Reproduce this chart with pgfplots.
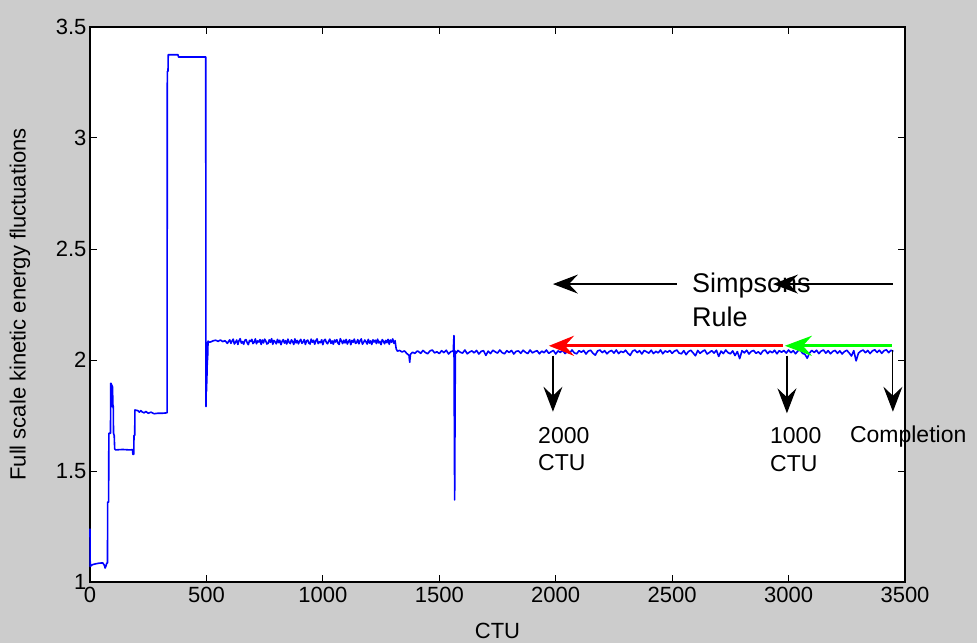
\documentclass[border=0pt]{standalone}
\usepackage{pgfplots}
\pgfplotsset{compat=1.18}
\usepackage{fontspec}
\setmainfont{Liberation Sans}
\usetikzlibrary{arrows.meta,backgrounds}
\definecolor{figgray}{RGB}{204,204,204}
\definecolor{mblue}{RGB}{0,0,255}
\definecolor{mred}{RGB}{255,0,0}
\definecolor{mgreen}{RGB}{0,255,0}
\begin{document}
\begin{tikzpicture}
\begin{axis}[
  scale only axis, width=815pt, height=555pt,
  xmin=0, xmax=3500, ymin=1, ymax=3.5,
  xtick={0,500,...,3500}, ytick={1,1.5,2,2.5,3,3.5},
  scaled ticks=false,
  /pgf/number format/1000 sep={},
  /pgf/number format/assume math mode=true,
  tick align=inside, major tick length=7pt,
  axis line style={black, line width=1.1pt},
  every tick/.style={black, line width=1pt},
  tick label style={font=\fontsize{22}{26}\selectfont},
  xticklabel style={yshift=-2pt},
  label style={font=\fontsize{22}{26}\selectfont},
  xlabel={CTU},
  ylabel={Full scale kinetic energy fluctuations},
  xlabel style={at={(axis description cs:0.5,-0.101)}, anchor=base},
  ylabel style={at={(axis description cs:-0.086,0.5)}, anchor=center},
  axis background/.style={fill=white},
  clip=false,
]
\addplot[mblue, line width=1.6pt, line join=round] coordinates {
(0,1.24)(1,1.07)(10,1.078)(25,1.082)(40,1.085)(55,1.086)(62,1.075)(65,1.063)(68,1.07)(72,1.085)(75,1.085)
(76,1.36)(80,1.36)(81,1.67)(88,1.67)(89,1.895)(90,1.80)(91,1.895)(92,1.79)(93,1.89)(94,1.80)(95,1.885)(96,1.79)
(97,1.88)(98,1.80)(100,1.79)(101,1.67)(104,1.66)(106,1.60)(110,1.595)(140,1.597)(170,1.595)(183,1.596)
(184,1.575)(188,1.575)(189,1.66)(192,1.66)(193,1.775)(205,1.772)(212,1.765)(218,1.772)(224,1.766)(232,1.762)
(240,1.768)(250,1.76)(262,1.765)(275,1.758)(290,1.76)(310,1.76)(331,1.762)
(332,3.30)(335,3.30)(336,3.375)(378,3.375)(380,3.365)(497,3.365)
(498,1.79)(500,2.0)(501,1.86)(502,2.06)(503,1.93)(504,2.08)(505,2.0)(507,2.085)(512,2.08)
(520,2.082)(530,2.087)(540,2.089)(550,2.084)(560,2.090)(570,2.083)(580,2.087)(590,2.075)(595,2.083)
(600,2.091)(605,2.075)(610,2.085)(615,2.094)(620,2.072)(625,2.080)(630,2.090)(635,2.070)(640,2.087)(645,2.096)
(650,2.076)(655,2.083)(660,2.071)(665,2.089)(670,2.092)(675,2.078)(680,2.069)(685,2.088)(690,2.084)(695,2.093)
(700,2.074)(705,2.079)(710,2.095)(715,2.073)(720,2.086)(725,2.081)(730,2.092)(735,2.070)(740,2.090)(745,2.077)
(750,2.094)(755,2.085)(760,2.072)(765,2.075)(770,2.091)(775,2.080)(780,2.096)(785,2.071)(790,2.088)(795,2.082)
(800,2.073)(805,2.093)(810,2.078)(815,2.089)(820,2.069)(825,2.084)(830,2.092)(835,2.076)(840,2.087)(845,2.072)
(850,2.094)(855,2.079)(860,2.074)(865,2.091)(870,2.083)(875,2.070)(880,2.095)(885,2.077)(890,2.088)(895,2.073)
(900,2.085)(905,2.093)(910,2.075)(915,2.081)(920,2.092)(925,2.070)(930,2.086)(935,2.090)(940,2.076)(945,2.072)
(950,2.094)(955,2.080)(960,2.089)(965,2.071)(970,2.087)(975,2.095)(980,2.074)(985,2.082)(990,2.078)(995,2.091)
(1000,2.069)(1005,2.088)(1010,2.093)(1015,2.079)(1020,2.073)(1025,2.084)(1030,2.094)(1035,2.075)(1040,2.086)(1045,2.071)
(1050,2.090)(1055,2.081)(1060,2.092)(1065,2.076)(1070,2.070)(1075,2.096)(1080,2.085)(1085,2.074)(1090,2.089)(1095,2.077)
(1100,2.093)(1105,2.072)(1110,2.083)(1115,2.091)(1120,2.069)(1125,2.088)(1130,2.080)(1135,2.094)(1140,2.075)(1145,2.078)
(1150,2.092)(1155,2.073)(1160,2.087)(1165,2.095)(1170,2.071)(1175,2.079)(1180,2.090)(1185,2.082)(1190,2.072)(1195,2.093)
(1200,2.076)(1205,2.086)(1210,2.070)(1215,2.091)(1220,2.081)(1225,2.089)(1230,2.074)(1235,2.094)(1240,2.077)(1245,2.084)
(1250,2.069)(1255,2.092)(1260,2.085)(1265,2.073)(1270,2.088)(1275,2.078)(1280,2.093)(1285,2.071)(1290,2.090)(1295,2.080)
(1300,2.095)(1305,2.075)(1310,2.087)
(1315,2.05)(1320,2.04)(1330,2.043)(1340,2.036)(1350,2.041)(1360,2.03)(1370,2.02)(1373,1.99)(1376,2.025)
(1385,2.035)(1395,2.03)(1405,2.04)
(1410,2.039)(1420,2.030)(1430,2.043)(1440,2.034)(1450,2.028)(1460,2.041)(1470,2.045)(1480,2.032)(1490,2.037)(1500,2.029)
(1510,2.042)(1520,2.033)(1530,2.044)(1540,2.027)(1550,2.038)(1560,2.040)(1563,2.11)(1566,1.37)(1569,2.04)(1572,2.030)
(1580,2.043)(1590,2.035)(1600,2.031)
(1610,2.045)(1620,2.028)(1630,2.036)(1640,2.041)(1650,2.032)(1660,2.043)(1670,2.027)(1680,2.039)(1690,2.042)(1700,2.021)
(1710,2.040)(1720,2.029)(1730,2.044)(1740,2.037)(1750,2.031)(1760,2.045)(1770,2.033)(1780,2.028)(1790,2.042)(1800,2.034)
(1810,2.043)(1820,2.027)(1830,2.039)(1840,2.041)(1850,2.030)(1860,2.044)(1870,2.035)(1880,2.029)(1890,2.045)(1900,2.032)
(1910,2.038)(1920,2.042)(1930,2.028)(1940,2.040)(1950,2.033)(1960,2.045)(1970,2.030)(1980,2.037)(1990,2.043)(2000,2.027)
(2010,2.041)(2020,2.034)(2030,2.044)(2040,2.029)(2050,2.039)(2060,2.031)(2070,2.045)(2080,2.032)(2090,2.028)(2100,2.042)
(2110,2.035)(2120,2.043)(2130,2.027)(2140,2.040)(2150,2.044)(2160,2.030)(2170,2.022)(2180,2.041)(2190,2.045)(2200,2.033)
(2210,2.042)(2220,2.028)(2230,2.038)(2240,2.043)(2250,2.031)(2260,2.045)(2270,2.029)(2280,2.039)(2290,2.034)(2300,2.044)
(2310,2.030)(2320,2.021)(2330,2.040)(2340,2.045)(2350,2.033)(2360,2.042)(2370,2.027)(2380,2.043)(2390,2.037)(2400,2.031)
(2410,2.044)(2420,2.029)(2430,2.039)(2440,2.032)(2450,2.045)(2460,2.028)(2470,2.041)(2480,2.035)(2490,2.043)(2500,2.030)
(2510,2.040)(2520,2.045)(2530,2.031)(2540,2.028)(2550,2.042)(2560,2.024)(2570,2.038)(2580,2.044)(2590,2.032)(2600,2.019)
(2610,2.043)(2620,2.030)(2630,2.039)(2640,2.045)(2650,2.027)(2660,2.034)(2670,2.042)(2680,2.031)(2690,2.044)(2700,2.016)
(2710,2.040)(2720,2.029)(2730,2.045)(2740,2.033)(2750,2.028)(2760,2.041)(2770,2.020)(2780,2.038)(2790,2.006)(2800,2.042)
(2810,2.032)(2820,2.044)(2830,2.027)(2840,2.039)(2850,2.043)(2860,2.030)(2870,2.037)(2880,2.026)(2890,2.041)(2900,2.045)
(2910,2.029)(2920,2.040)(2930,2.033)(2940,2.044)(2950,2.028)(2960,2.042)(2970,2.035)(2980,2.043)(2990,2.031)(3000,2.045)
(3010,2.033)(3020,2.042)(3030,2.028)(3040,2.041)(3050,2.045)(3060,2.030)(3070,2.026)(3080,2.008)(3090,2.032)(3100,2.043)
(3110,2.034)(3120,2.044)(3130,2.029)(3140,2.040)(3150,2.045)(3160,2.031)(3170,2.042)(3180,2.028)(3190,2.039)(3200,2.043)
(3210,2.030)(3220,2.041)(3230,2.027)(3240,2.038)(3250,2.044)(3260,2.032)(3270,2.018)(3280,2.042)(3290,1.996)(3300,2.031)
(3310,2.040)(3320,2.045)(3330,2.033)(3340,2.043)(3350,2.029)(3360,2.041)(3370,2.046)(3380,2.034)(3390,2.044)(3400,2.030)
(3410,2.042)(3420,2.046)(3430,2.033)(3440,2.044)(3450,2.039)
};
% texts
\node[anchor=base west, inner sep=0pt, font=\fontsize{27}{32}\selectfont] at (axis cs:2585,2.302) {Simpsons};
\node[anchor=base west, inner sep=0pt, font=\fontsize{27}{32}\selectfont] at (axis cs:2585,2.153) {Rule};
\node[anchor=base west, inner sep=0pt, font=\fontsize{23}{27}\selectfont] at (axis cs:1924,1.626) {2000};
\node[anchor=base west, inner sep=0pt, font=\fontsize{23}{27}\selectfont] at (axis cs:1924,1.504) {CTU};
\node[anchor=base west, inner sep=0pt, font=\fontsize{23}{27}\selectfont] at (axis cs:2920,1.626) {1000};
\node[anchor=base west, inner sep=0pt, font=\fontsize{23}{27}\selectfont] at (axis cs:2920,1.496) {CTU};
\node[anchor=base west, inner sep=0pt, font=\fontsize{23}{27}\selectfont] at (axis cs:3263,1.630) {Completion};
% arrows
\draw[black, line width=1.2pt, -{Stealth[length=25pt,width=19pt,inset=9pt]}] (axis cs:2520,2.342) -- (axis cs:1988,2.342);
\draw[black, line width=1.2pt, -{Stealth[length=25pt,width=19pt,inset=9pt]}] (axis cs:3448,2.342) -- (axis cs:2933,2.342);
\draw[mred, line width=3.2pt, -{Stealth[length=25pt,width=20pt,inset=9pt]}] (axis cs:2976,2.064) -- (axis cs:1971,2.064);
\draw[mgreen, line width=3.2pt, -{Stealth[length=27pt,width=20pt,inset=9pt]}] (axis cs:3444,2.064) -- (axis cs:2984,2.064);
\draw[black, line width=1.2pt, -{Stealth[length=25pt,width=19pt,inset=9pt]}] (axis cs:1988,2.02) -- (axis cs:1988,1.767);
\draw[black, line width=1.2pt, -{Stealth[length=25pt,width=19pt,inset=9pt]}] (axis cs:2993,2.02) -- (axis cs:2993,1.760);
\draw[black, line width=1.2pt, -{Stealth[length=25pt,width=19pt,inset=9pt]}] (axis cs:3448,2.045) -- (axis cs:3448,1.767);
\end{axis}
\begin{pgfonlayer}{background}
\fill[figgray] (-90pt,-61pt) rectangle (887pt,582pt);
\end{pgfonlayer}
\pgfresetboundingbox
\path[use as bounding box] (-90pt,-61pt) rectangle (887pt,582pt);
\end{tikzpicture}
\end{document}
